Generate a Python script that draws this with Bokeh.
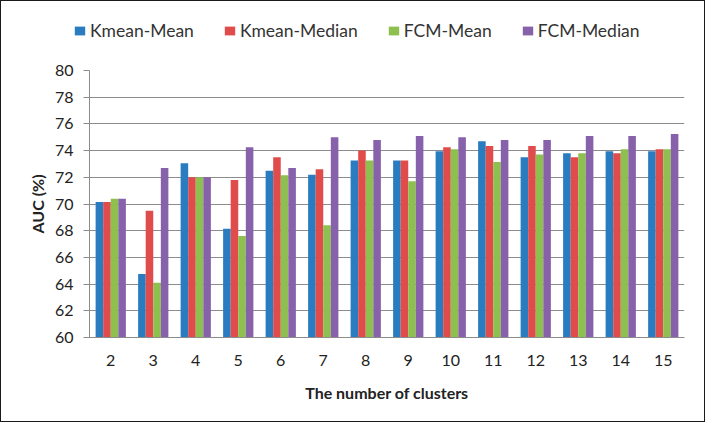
from bokeh.plotting import figure
from bokeh.layouts import column
from bokeh.models import FactorRange, Range1d, FixedTicker, Legend, LegendItem, ColumnDataSource
from bokeh.transform import dodge
from bokeh.embed import file_html
from bokeh.resources import INLINE

clusters = ["2", "3", "4", "5", "6", "7", "8", "9", "10", "11", "12", "13", "14", "15"]
kmean_mean   = [70.15, 64.75, 73.05, 68.15, 72.5, 72.2, 73.25, 73.25, 73.95, 74.7, 73.5, 73.8, 73.95, 73.95]
kmean_median = [70.15, 69.5, 72.0, 71.8, 73.5, 72.6, 74.0, 73.25, 74.25, 74.35, 74.35, 73.5, 73.8, 74.1]
fcm_mean     = [70.4, 64.1, 72.0, 67.6, 72.15, 68.4, 73.25, 71.7, 74.1, 73.15, 73.7, 73.8, 74.1, 74.1]
fcm_median   = [70.4, 72.7, 72.0, 74.25, 72.7, 75.0, 74.8, 75.1, 75.0, 74.8, 74.8, 75.1, 75.1, 75.25]
series_names = ["Kmean-Mean", "Kmean-Median", "FCM-Mean", "FCM-Median"]
colors = ["#2A7CC0", "#E04C4B", "#8DC04F", "#8762AB"]
y_ticks = [60, 62, 64, 66, 68, 70, 72, 74, 76, 78, 80]

src = ColumnDataSource(dict(x=clusters, s0=kmean_mean, s1=kmean_median, s2=fcm_mean, s3=fcm_median))

FONT = "Lato"
W = 703
LH = 50          # legend strip height
H = 370          # main chart height
TOP, BOTTOM = 19, 84

# ---- legend strip (separate figure so the legend is not clipped by the chart frame)
pl = figure(width=W, height=LH, output_backend="svg", toolbar_location=None,
            x_range=Range1d(0, 1), y_range=Range1d(0, 1),
            x_axis_location=None, y_axis_location=None, min_border=0)
pl.frame_align = False
pl.outline_line_color = None
pl.xgrid.visible = False
pl.ygrid.visible = False
nan = float("nan")
leg_rs = [pl.quad(left=[nan], right=[nan], top=[nan], bottom=[nan], fill_color=c, line_color=None)
          for c in colors]
legend = Legend(items=[LegendItem(label=n, renderers=[r]) for n, r in zip(series_names, leg_rs)],
                orientation="horizontal", location=(72, 10.5),
                glyph_width=13, glyph_height=11, label_standoff=4, spacing=29,
                padding=0, margin=0, border_line_color=None, background_fill_alpha=0,
                label_text_font=FONT, label_text_font_size="17.5px", label_text_color="#333333",
                label_height=11)
pl.add_layout(legend, "center")

# ---- main chart
p = figure(x_range=FactorRange(*clusters), y_range=Range1d(60, 80),
           width=W, height=H, output_backend="svg", toolbar_location=None,
           min_border_left=88, min_border_right=20, min_border_top=TOP, min_border_bottom=BOTTOM)
p.frame_align = False
p.outline_line_color = None

bw = 0.178
offsets = [-1.5 * bw, -0.5 * bw, 0.5 * bw, 1.5 * bw]
for i, col in enumerate(colors):
    p.vbar(x=dodge("x", offsets[i], range=p.x_range), top="s%d" % i, bottom=60,
           width=bw, source=src, fill_color=col, line_color=None)

grid_col = "#8C8C8C"
p.xgrid.grid_line_color = None
p.ygrid.grid_line_color = grid_col
p.ygrid.grid_line_width = 1
p.yaxis.ticker = FixedTicker(ticks=y_ticks)

for ax in (p.xaxis[0], p.yaxis[0]):
    ax.axis_line_color = grid_col
    ax.major_label_text_font = FONT
    ax.major_label_text_font_size = "16px"
    ax.major_label_text_color = "#222222"
    ax.axis_label_text_font = FONT
    ax.axis_label_text_font_size = "16px"
    ax.axis_label_text_font_style = "bold"
    ax.axis_label_text_color = "#222222"
    ax.minor_tick_line_color = None

p.yaxis.axis_label = "AUC (%)"
p.yaxis.major_tick_line_color = grid_col
p.yaxis.major_tick_out = 6
p.yaxis.major_tick_in = 0
p.yaxis.major_label_standoff = 10
p.yaxis.axis_label_standoff = 5

p.xaxis.axis_label = "The number of clusters"
p.xaxis.major_tick_line_color = None
p.xaxis.major_tick_out = 0
p.xaxis.major_label_standoff = 17
p.xaxis.axis_label_standoff = 14

layout = column(pl, p, spacing=0)
layout.styles = {"border": "1px solid #1a1a1a", "background-color": "white"}

open("out.html", "w").write(file_html(layout, INLINE))
